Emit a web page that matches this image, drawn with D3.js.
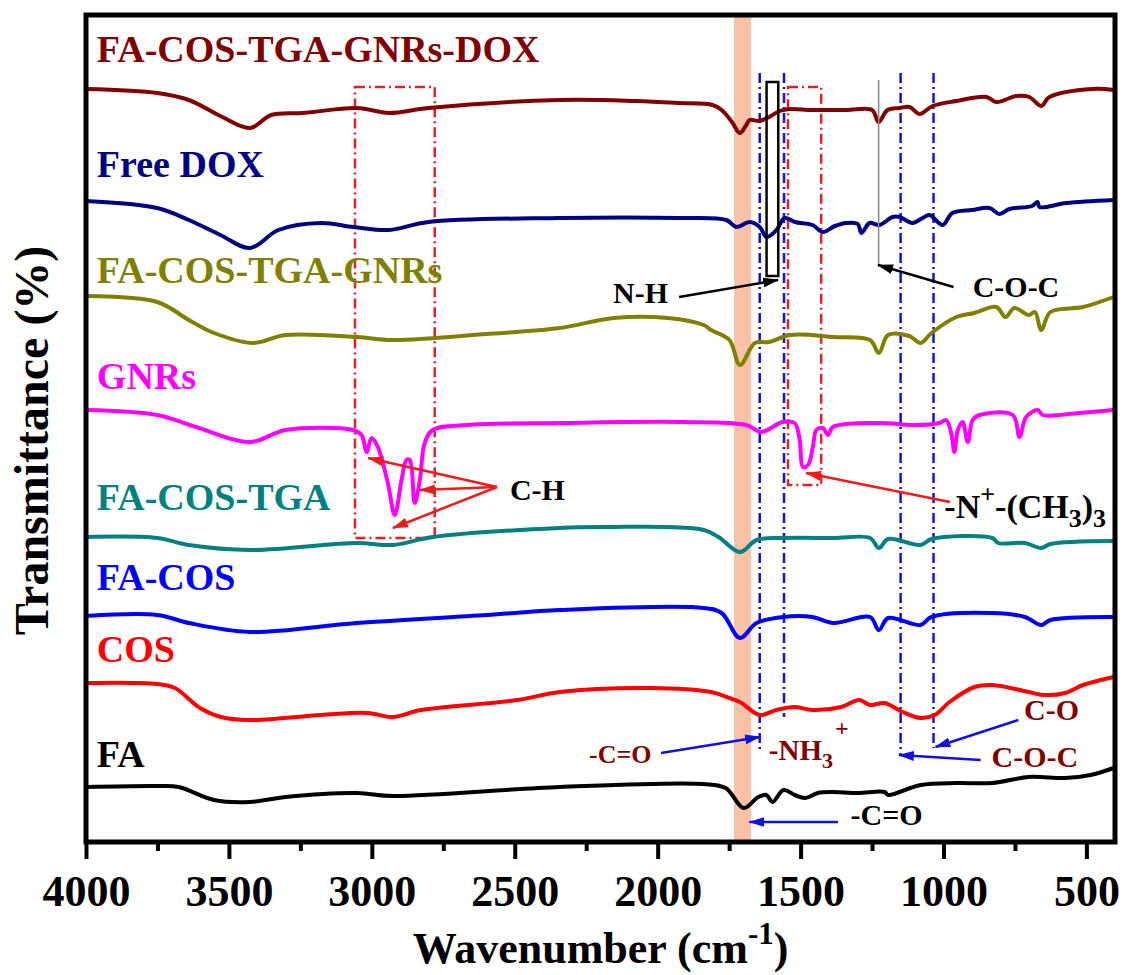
<!DOCTYPE html>
<html>
<head>
<meta charset="utf-8">
<script src="https://cdn.jsdelivr.net/npm/d3@7.9.0/dist/d3.min.js"></script>
<style>
  body { margin: 0; background: #fff; }
  svg text { font-family: "Liberation Serif", "Times New Roman", serif; font-weight: bold; }
</style>
</head>
<body>
<svg id="chart" width="1126" height="975"></svg>
<script>
// Spectra: [wavenumber (cm-1), transmittance (offset, a.u.)]
const labels = ["FA-COS-TGA-GNRs-DOX", "Free DOX", "FA-COS-TGA-GNRs", "GNRs", "FA-COS-TGA", "FA-COS", "COS", "FA"];
const colors = ["#800000", "#000080", "#808000", "#ff00ff", "#008080", "#0000ff", "#ff0000", "#000000"];

const dox = [[4000,75.3],[3750,74.9],[3640,74.2],[3530,72.6],[3426,71.4],[3352,72.7],[3240,72.9],[3052,73.4],[2940,72.9],[2802,73.4],[2343,74.2],[2077,74.1],[1923,73.9],[1808,73.7],[1776,73.2],[1740,72.0],[1713,70.9],[1690,71.7],[1678,72.2],[1643,72.1],[1610,72.5],[1573,73.1],[1538,73.3],[1460,73.2],[1340,73.2],[1250,73.2],[1227,72.0],[1196,73.2],[1154,73.4],[1119,73.5],[1084,72.8],[1038,73.6],[955,74.1],[850,74.5],[815,74.0],[745,74.6],[700,74.5],[658,73.6],[629,74.5],[478,75.3],[405,75.2]];
const freeDox = [[4000,64.1],[3751,63.4],[3640,62.2],[3530,60.7],[3426,59.4],[3327,61.2],[3178,61.9],[3064,61.5],[2940,61.2],[2802,62.0],[2343,62.4],[1923,62.4],[1760,62.2],[1725,61.5],[1678,62.0],[1643,61.5],[1619,60.5],[1584,61.2],[1556,62.4],[1520,62.0],[1458,61.7],[1423,61.0],[1380,61.6],[1340,61.9],[1300,61.8],[1287,60.9],[1259,61.9],[1224,61.7],[1178,62.5],[1154,62.5],[1108,61.9],[1073,62.4],[1049,62.7],[1003,61.7],[969,62.9],[900,63.2],[839,63.4],[804,62.8],[769,63.3],[690,63.6],[671,64.0],[664,63.5],[570,63.9],[405,64.2]];
const fctgGnrs = [[4000,54.6],[3751,54.0],[3640,52.2],[3552,50.9],[3414,49.9],[3302,50.7],[3052,50.5],[2927,50.2],[2600,50.8],[2343,51.4],[2154,52.4],[1965,52.4],[1839,51.7],[1813,51.2],[1749,50.2],[1712,47.7],[1660,49.9],[1612,50.0],[1535,50.7],[1385,50.5],[1257,50.2],[1226,48.9],[1194,50.7],[1120,50.6],[1080,49.9],[1042,50.9],[955,52.5],[892,52.9],[815,53.5],[783,52.5],[752,53.4],[702,52.7],[680,53.0],[658,51.2],[626,53.0],[512,53.5],[405,54.5]];
const gnrs = [[4000,43.2],[3751,42.7],[3615,41.5],[3426,40.0],[3302,41.2],[3066,41.2],[3036,40.7],[3018,39.0],[3001,40.4],[2979,39.5],[2944,35.9],[2920,32.7],[2896,36.2],[2879,38.2],[2867,38.2],[2850,33.9],[2832,36.2],[2815,39.9],[2787,41.2],[2669,41.7],[2343,41.9],[1923,42.0],[1690,41.7],[1638,41.0],[1563,42.0],[1521,41.9],[1503,40.2],[1492,37.5],[1474,37.7],[1457,39.5],[1445,41.2],[1422,41.4],[1404,40.7],[1387,41.5],[1224,41.9],[1107,41.7],[1014,41.9],[991,42.2],[973,40.9],[962,39.0],[950,41.2],[933,42.0],[915,40.0],[898,42.2],[874,42.7],[758,42.7],[734,40.5],[711,42.5],[670,43.2],[653,42.7],[525,42.9],[405,43.2]];
const fcTga = [[4000,30.5],[3751,30.4],[3640,29.7],[3426,29.2],[3052,29.9],[2927,29.7],[2787,30.5],[2343,31.4],[2154,31.5],[1965,31.5],[1839,31.2],[1787,30.5],[1712,29.0],[1654,30.2],[1560,30.4],[1385,30.4],[1257,30.4],[1226,29.4],[1194,30.3],[1080,29.7],[1042,30.3],[829,30.4],[809,29.9],[715,29.9],[658,29.4],[626,29.8],[405,30.1]];
const faCos = [[4000,22.6],[3751,22.7],[3640,21.9],[3426,21.0],[3052,21.9],[2600,22.7],[2343,23.2],[1839,23.4],[1776,22.9],[1712,20.4],[1654,21.9],[1560,22.5],[1459,22.5],[1385,21.9],[1257,22.5],[1226,21.2],[1194,22.4],[1080,21.7],[1042,22.5],[829,22.9],[715,22.5],[658,21.7],[626,22.2],[405,22.5]];
const cos = [[4000,15.9],[3751,15.8],[3689,15.4],[3601,13.4],[3528,12.5],[3426,12.2],[3178,12.7],[3014,12.9],[2927,12.5],[2828,13.2],[2490,14.2],[2343,15.0],[2028,15.4],[1813,15.0],[1749,14.4],[1712,14.0],[1643,12.7],[1585,13.2],[1522,13.5],[1459,13.2],[1358,13.5],[1295,14.2],[1257,13.7],[1206,13.9],[1143,13.0],[1080,12.4],[1031,12.7],[979,14.0],[892,15.5],[829,15.7],[702,15.0],[650,14.7],[575,14.9],[512,15.7],[405,16.5]];
const fa = [[4000,5.5],[3751,5.6],[3676,5.5],[3552,4.2],[3426,4.0],[3302,4.5],[3052,4.9],[2927,4.6],[2343,5.5],[1839,5.8],[1762,5.4],[1699,3.4],[1648,4.5],[1620,4.7],[1598,4.0],[1560,5.2],[1520,4.7],[1484,4.4],[1440,4.9],[1395,5.0],[1300,4.9],[1206,5.0],[1194,4.7],[1080,5.7],[955,5.9],[829,5.9],[702,6.5],[575,6.4],[486,6.7],[405,7.4]];
const spectra = [dox, freeDox, fctgGnrs, gnrs, fcTga, faCos, cos, fa];

const majorTicks = [4000, 3500, 3000, 2500, 2000, 1500, 1000, 500];
const minorTicks = [3750, 3250, 2750, 2250, 1750, 1250, 750];

// Layout
const svg = d3.select("#chart");
const plotL = 86, plotR = 1115, plotT = 15, plotB = 842;
const x = d3.scaleLinear().domain([4000, 400]).range([plotL, plotR]);
const y = d3.scaleLinear().domain([0, 82.7]).range([plotB, plotT]);

// Highlight band around C=O
svg.append("rect")
  .attr("x", x(1733)).attr("y", plotT)
  .attr("width", x(1673) - x(1733)).attr("height", plotB - plotT)
  .attr("fill", "#f8c2a6");

// Arrow markers
const defs = svg.append("defs");
[["blue", "#1010e0"], ["red", "#ee1c1c"], ["black", "#000"]].forEach(([id, c]) => {
  defs.append("marker")
    .attr("id", "arr-" + id)
    .attr("viewBox", "0 0 16 10").attr("refX", 15).attr("refY", 5)
    .attr("markerWidth", 16).attr("markerHeight", 10)
    .attr("markerUnits", "userSpaceOnUse").attr("orient", "auto")
    .append("path").attr("d", "M0,0 L16,5 L0,10 Z").attr("fill", c);
});

// Dash-dot guide lines
const guides = [[1643, 76.9, 9.2], [1558, 76.9, 12.5], [1150, 76.9, 8.7], [1035, 76.9, 9.4]];
guides.forEach(([wn, t0, t1]) => {
  svg.append("line")
    .attr("x1", x(wn)).attr("x2", x(wn)).attr("y1", y(t0)).attr("y2", y(t1))
    .attr("stroke", "#1414c8").attr("stroke-width", 2.5).attr("stroke-dasharray", "10,4,2,4");
});

// Red dash-dot boxes
const redBoxes = [[3059, 2780, 75.5, 30.4], [1544, 1428, 75.5, 35.7]];
redBoxes.forEach(([w0, w1, t0, t1]) => {
  svg.append("rect")
    .attr("x", x(w0)).attr("y", y(t0))
    .attr("width", x(w1) - x(w0)).attr("height", y(t1) - y(t0))
    .attr("fill", "none").attr("stroke", "#e0202a").attr("stroke-width", 2.5)
    .attr("stroke-dasharray", "10,4,2,4");
});

// Spectra
const line = d3.line().x(d => x(d[0])).y(d => y(d[1])).curve(d3.curveCatmullRom.alpha(0.5));
spectra.forEach((s, i) => {
  svg.append("path")
    .datum(s.slice().sort((a, b) => b[0] - a[0]))
    .attr("d", line)
    .attr("fill", "none")
    .attr("stroke", colors[i])
    .attr("stroke-width", 4)
    .attr("stroke-linejoin", "round");
});

// Black rectangle (N-H) and grey marker line (C-O-C)
svg.append("rect")
  .attr("x", x(1619)).attr("y", y(76.0))
  .attr("width", x(1578) - x(1619)).attr("height", y(56.6) - y(76.0))
  .attr("fill", "none").attr("stroke", "#000").attr("stroke-width", 2.5);
svg.append("line")
  .attr("x1", x(1227)).attr("x2", x(1227)).attr("y1", y(76.2)).attr("y2", y(57.7))
  .attr("stroke", "#888").attr("stroke-width", 1.5);

// Series labels
const labelY = [78.0, 66.5, 55.9, 45.3, 33.2, 25.2, 18.0, 7.5];
labels.forEach((l, i) => {
  svg.append("text")
    .attr("x", x(3962)).attr("y", y(labelY[i]))
    .attr("font-size", 38).attr("fill", colors[i])
    .text(l);
});

// Arrows
const arrows = [
  ["black", 1925, 54.5, 1579, 56.2],
  ["black", 965, 55.5, 1229, 57.7],
  ["red", 2562, 35.5, 3013, 38.4],
  ["red", 2562, 35.5, 2832, 35.2],
  ["red", 2562, 35.5, 2926, 31.4],
  ["red", 977, 34.0, 1481, 36.9],
  ["blue", 1988, 8.9, 1642, 10.5],
  ["blue", 738, 12.2, 1028, 9.5],
  ["blue", 870, 8.2, 1156, 8.7],
  ["blue", 1369, 2.0, 1679, 2.0]
];
const arrowColor = { blue: "#1010e0", red: "#ee1c1c", black: "#000" };
arrows.forEach(([c, w0, t0, w1, t1]) => {
  svg.append("line")
    .attr("x1", x(w0)).attr("y1", y(t0)).attr("x2", x(w1)).attr("y2", y(t1))
    .attr("stroke", arrowColor[c]).attr("stroke-width", 2.5)
    .attr("marker-end", `url(#arr-${c})`);
});

// Annotation texts
function note(wn, t, size, fill, parts) {
  const txt = svg.append("text").attr("x", x(wn)).attr("y", y(t))
    .attr("font-size", size).attr("fill", fill);
  parts.forEach(p => {
    const ts = txt.append("tspan").text(p.t);
    if (p.s) ts.attr("font-size", p.s);
    if (p.dy) ts.attr("dy", p.dy);
    if (p.dx) ts.attr("dx", p.dx);
  });
}
note(2156, 53.9, 30, "#000", [{ t: "N-H" }]);
note(898, 54.5, 30, "#000", [{ t: "C-O-C" }]);
note(2517, 34.2, 30, "#000", [{ t: "C-H" }]);
note(997, 32.4, 34, "#000", [
  { t: "-N" }, { t: "+", s: 26, dy: -15 }, { t: "-(CH", s: 34, dy: 15 },
  { t: "3", s: 26, dy: 9 }, { t: ")", s: 34, dy: -9 }, { t: "3", s: 26, dy: 9 }
]);
note(2240, 7.9, 26, "#800000", [{ t: "-C=O" }]);
note(1611, 8.2, 29, "#800000", [{ t: "-NH" }, { t: "3", s: 22, dy: 8 }, { t: "+", s: 24, dy: -32, dx: 2 }]);
note(718, 12.2, 30, "#800000", [{ t: "C-O" }]);
note(832, 7.5, 30, "#800000", [{ t: "C-O-C" }]);
note(1325, 1.7, 30, "#000", [{ t: "-C=O" }]);

// Frame
svg.append("rect")
  .attr("x", plotL).attr("y", plotT).attr("width", plotR - plotL).attr("height", plotB - plotT)
  .attr("fill", "none").attr("stroke", "#000").attr("stroke-width", 5);

// X axis
const gx = svg.append("g").attr("transform", `translate(0,${plotB})`);
gx.call(d3.axisBottom(x).tickValues(majorTicks).tickSize(17).tickSizeOuter(0).tickPadding(16).tickFormat(d3.format("d")));
gx.select(".domain").remove();
gx.selectAll(".tick line").attr("stroke", "#000").attr("stroke-width", 4);
gx.selectAll(".tick text").attr("font-size", 44).attr("fill", "#000")
  .style("font-family", "'Liberation Serif', serif").style("font-weight", "bold");
const gm = svg.append("g").attr("transform", `translate(0,${plotB})`);
gm.call(d3.axisBottom(x).tickValues(minorTicks).tickSize(9).tickSizeOuter(0).tickFormat(""));
gm.select(".domain").remove();
gm.selectAll(".tick line").attr("stroke", "#000").attr("stroke-width", 4);

// Axis titles
const xt = svg.append("text").attr("x", (plotL + plotR) / 2).attr("y", 963)
  .attr("text-anchor", "middle").attr("font-size", 44).attr("fill", "#000");
xt.append("tspan").text("Wavenumber (cm");
xt.append("tspan").text("-1").attr("font-size", 31).attr("dy", -19);
xt.append("tspan").text(")").attr("dy", 19);

svg.append("text")
  .attr("transform", `translate(48,${(plotT + plotB) / 2 + 12}) rotate(-90)`)
  .attr("text-anchor", "middle").attr("font-size", 48).attr("fill", "#000")
  .text("Transmittance (%)");
</script>
</body>
</html>
